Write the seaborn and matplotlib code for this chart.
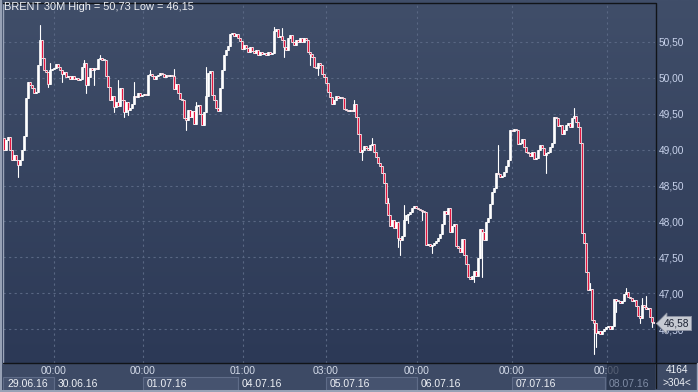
import numpy as np
import pandas as pd
import matplotlib
matplotlib.use("Agg")
import matplotlib.pyplot as plt
import seaborn as sns
from matplotlib.patches import Rectangle
from matplotlib.lines import Line2D

# ---------------- data (BRENT 30M) ----------------
first_open = 49.16
closes = [
    49.00, 49.14, 49.18, 49.00, 48.86, 48.93, 48.86, 48.79, 48.86, 49.00,
    49.19, 49.72, 49.94, 49.90, 49.86, 49.79, 49.80, 50.18, 50.53, 50.28,
    50.11, 50.08, 49.92, 50.11, 50.12, 50.14, 50.19, 50.15, 50.11, 50.05,
    50.08, 50.01, 50.03, 49.99, 50.03, 49.99, 50.00, 49.97, 49.99, 50.15,
    50.21, 49.90, 50.01, 50.14, 50.11, 50.14, 50.12, 50.26, 50.28, 50.25,
    50.25, 50.03, 49.87, 49.69, 49.75, 49.60, 49.67, 49.61, 49.86, 49.69,
    49.53, 49.67, 49.55, 49.58, 49.64, 49.75, 49.74, 49.79, 49.75, 49.76,
    49.78, 49.76, 50.04, 50.05, 50.03, 49.99, 50.03, 50.04, 50.07, 50.05,
    50.01, 50.04, 50.03, 50.04, 50.03, 49.85, 49.92, 49.79, 49.71, 49.69,
    49.44, 49.41, 49.55, 49.46, 49.54, 49.36, 49.61, 49.62, 49.50, 49.34,
    49.53, 49.75, 50.07, 50.10, 49.76, 49.69, 49.58, 49.54, 49.86, 50.11,
    50.32, 50.39, 50.44, 50.61, 50.63, 50.58, 50.61, 50.56, 50.51, 50.40,
    50.46, 50.42, 50.36, 50.43, 50.37, 50.35, 50.39, 50.32, 50.36, 50.33,
    50.35, 50.32, 50.36, 50.33, 50.35, 50.65, 50.68, 50.57, 50.58, 50.53,
    50.43, 50.39, 50.56, 50.60, 50.50, 50.46, 50.53, 50.50, 50.56, 50.50,
    50.56, 50.53, 50.36, 50.33, 50.29, 50.15, 50.14, 50.21, 50.18, 50.05,
    50.01, 49.93, 49.80, 49.73, 49.64, 49.69, 49.75, 49.72, 49.73, 49.72,
    49.57, 49.55, 49.54, 49.55, 49.54, 49.64, 49.46, 49.22, 48.97, 49.00,
    49.05, 49.02, 49.00, 49.07, 49.08, 48.97, 48.90, 48.81, 48.77, 48.68,
    48.54, 48.26, 48.09, 47.94, 48.02, 47.91, 47.99, 47.77, 47.74, 47.80,
    48.02, 48.09, 48.10, 48.13, 48.19, 48.22, 48.19, 48.17, 48.16, 48.15,
    48.13, 47.67, 47.69, 47.66, 47.67, 47.70, 47.73, 47.77, 47.83, 47.97,
    48.15, 48.10, 48.19, 47.85, 47.94, 47.97, 47.66, 47.63, 47.58, 47.76,
    47.53, 47.41, 47.23, 47.20, 47.24, 47.31, 47.24, 47.49, 47.90, 47.85,
    47.74, 47.99, 48.05, 48.24, 48.41, 48.47, 48.68, 48.66, 48.62, 48.63,
    48.69, 48.77, 48.86, 49.27, 49.26, 49.29, 49.27, 49.08, 49.09, 49.15,
    49.04, 48.97, 48.95, 48.91, 48.97, 48.87, 48.88, 49.00, 49.07, 49.02,
    48.93, 48.95, 48.97, 49.04, 49.09, 49.46, 49.44, 49.33, 49.34, 49.22,
    49.27, 49.34, 49.37, 49.32, 49.44, 49.47, 49.39, 49.32, 49.09, 47.84,
    47.70, 47.30, 47.05, 47.06, 46.63, 46.59, 46.45, 46.48, 46.43, 46.48,
    46.50, 46.53, 46.54, 46.50, 46.54, 46.92, 46.89, 46.89, 46.86, 46.89,
    46.99, 47.02, 46.95, 46.94, 46.89, 46.91, 46.82, 46.68, 46.66, 46.84,
    46.81, 46.78, 46.80, 46.67, 46.60, 46.58,
]
# notable wicks (bar index -> price)
high_idx = [18, 23, 40, 48, 57, 65, 73, 85, 96, 101, 135, 139, 175, 184,
            192, 200, 247, 285, 293, 311, 319, 321]
high_val = [50.73, 50.21, 50.25, 50.32, 49.97, 49.94, 50.11, 50.12, 49.66,
            50.15, 50.71, 50.70, 49.69, 49.16, 48.33, 48.23, 49.07, 49.58,
            47.14, 47.07, 46.93, 46.96]
low_idx = [7, 22, 29, 41, 45, 55, 60, 62, 91, 140, 153, 157, 179, 197, 198,
           202, 209, 214, 235, 239, 271, 295, 296, 306, 318, 324]
low_val = [48.62, 49.87, 49.94, 49.79, 49.90, 49.53, 49.46, 49.48, 49.27,
           50.29, 50.18, 50.04, 48.86, 47.64, 47.53, 47.98, 48.02, 47.56,
           47.16, 47.23, 48.68, 46.15, 46.25, 46.74, 46.59, 46.53]

price_ticks = [46.5, 47.0, 47.5, 48.0, 48.5, 49.0, 49.5, 50.0, 50.5]
time_labels = ["00:00", "00:00", "01:00", "03:00", "00:00", "00:00", "00:00"]
time_pos = [25, 69.5, 119.5, 161, 206.5, 254, 301.5]
date_labels = ["29.06.16", "30.06.16", "01.07.16", "04.07.16",
               "05.07.16", "06.07.16", "07.07.16", "08.07.16"]
date_starts = [-0.5, 25, 69.5, 117, 161, 206.5, 254, 300.5]
title = "BRENT 30M High = 50,73 Low = 46,15"
last_label = "46,58"
corner_top, corner_bot = "4164", ">304<"

# ---------------- build OHLC ----------------
n = len(closes)
idx = np.arange(n)
opens = np.array([first_open] + closes[:-1])
cl = np.array(closes)
highs = np.maximum(opens, cl)
lows = np.minimum(opens, cl)
for i, v in zip(high_idx, high_val):
    highs[i] = max(highs[i], v)
for i, v in zip(low_idx, low_val):
    lows[i] = min(lows[i], v)

wicks = pd.DataFrame({
    "x": np.repeat(idx, 2),
    "y": np.column_stack([lows, highs]).ravel(),
    "u": np.repeat(idx, 2),
})

# ---------------- figure ----------------
sns.set_theme(style="dark")
plt.rcParams["font.family"] = ["Liberation Sans", "DejaVu Sans"]

W, H = 698, 392
fig = plt.figure(figsize=(W / 100, H / 100), dpi=100)
fig.patch.set_facecolor("#3d4a65")

def fx(px):
    return px / W

def fy(py):
    return 1 - py / H

# gradient background (plot + right label column)
bg = fig.add_axes([0, fy(363), 1, 363 / H])
g = np.linspace(0, 1, 256)[:, None, None]
c_top = np.array([64, 78, 105]) / 255
c_bot = np.array([44, 57, 86]) / 255
img = c_top * (1 - g) + c_bot * g
bg.imshow(img, aspect="auto", extent=[0, 1, 0, 1], interpolation="bilinear")
bg.set_axis_off()

ax = fig.add_axes([fx(3), fy(363), fx(652), 360 / H])
ax.set_facecolor("none")
ax.set_xlim(-0.5, n - 0.5)
ax.set_ylim(46.029, 51.043)

grid_c = "#596783"
ax.set_yticks(price_ticks)
ax.grid(True, axis="y", color=grid_c, linestyle=(0, (2, 3)), linewidth=0.8)
ax.grid(False, axis="x")
for p in time_pos:
    ax.axvline(p, color=grid_c, linestyle=(0, (2, 3)), linewidth=0.8, zorder=1)

# wicks via seaborn
sns.lineplot(data=wicks, x="x", y="y", units="u", estimator=None, sort=False,
             color="white", linewidth=0.8, legend=False, ax=ax, zorder=3)

# bodies
up = cl >= opens
face = np.where(up, "#ffffff", "#e3163f")
bottoms = np.minimum(opens, cl)
heights = np.maximum(np.abs(cl - opens), 0.012)
ax.bar(idx, heights, bottom=bottoms, width=1.35, color=face,
       edgecolor="#ffffff", linewidth=0.5, zorder=4)

ax.set_xlabel("")
ax.set_ylabel("")
ax.set_xticks([])
ax.yaxis.tick_right()
ax.set_yticklabels([f"{t:.2f}".replace(".", ",") for t in price_ticks])
ax.tick_params(axis="y", length=0, pad=2.5, labelsize=7.3, labelcolor="#c9d3ec")
for s in ["bottom", "right"]:
    ax.spines[s].set_visible(False)
ax.spines["top"].set_color("#111418")
ax.spines["top"].set_linewidth(1)
ax.spines["left"].set_color("#9aa4b8")
ax.spines["left"].set_linewidth(1)

# bottom strip with time / date labels
axb = fig.add_axes([fx(3), 0, fx(652), 29 / H])
axb.set_xlim(-0.5, n - 0.5)
axb.set_ylim(0, 1)
axb.set_axis_off()
date_ends = date_starts[1:] + [n - 0.5]
for k, (lab, a, b) in enumerate(zip(date_labels, date_starts, date_ends)):
    if k % 2 == 0:
        axb.add_patch(Rectangle((a, 0.07), b - a, 0.45, facecolor="#46536f",
                                edgecolor="#5f6c88", linewidth=0.8, zorder=1))
    else:
        axb.plot([a, a], [0.07, 0.52], color="#5f6c88", lw=0.8, zorder=1)
    col = "#7f8ca5" if k == len(date_labels) - 1 else "#eef1f6"
    axb.text(a + 2.0, 0.29, lab, ha="left", va="center", fontsize=7.5,
             color=col, zorder=6)
for lab, p in zip(time_labels, time_pos):
    axb.text(p, 0.73, lab, ha="center", va="center", fontsize=7.5,
             color="#d3dae8", zorder=2)
axb.add_patch(Rectangle((301.3, 0.0), n - 0.5 - 301.3, 1.0, facecolor="#253047",
                        alpha=0.72, edgecolor="none", zorder=5))

# frame lines
fig.add_artist(Line2D([fx(3), 1], [fy(363), fy(363)], color="#111418", lw=1.0))
fig.add_artist(Line2D([fx(655.5), fx(655.5)], [fy(3), fy(388)], color="#111418", lw=1.0))
fig.add_artist(Line2D([fx(1), fx(1)], [0, 1], color="#9aa4b8", lw=1.4))
fig.add_artist(Line2D([0, 1], [fy(391), fy(391)], color="#9aa4b8", lw=1.4))
fig.add_artist(Line2D([fx(697), fx(697)], [0, fy(363)], color="#9aa4b8", lw=1.0))

# texts
fig.text(fx(4), fy(2), title, ha="left", va="top", fontsize=7.9, color="#eef0f4")
fig.text(fx(677), fy(370), corner_top, ha="center", va="center", fontsize=7.3,
         color="#eef1f6")
fig.text(fx(677), fy(383.5), corner_bot, ha="center", va="center", fontsize=7.3,
         color="#eef1f6")
fig.text(fx(664), fy(323.5), last_label, ha="left", va="center", fontsize=7.3,
         color="#1b2233", zorder=10,
         bbox=dict(boxstyle="larrow,pad=0.2", facecolor="#c6cad2",
                   edgecolor="#8d93a3", linewidth=0.6))

fig.savefig("out.png", dpi=100, facecolor=fig.get_facecolor())
